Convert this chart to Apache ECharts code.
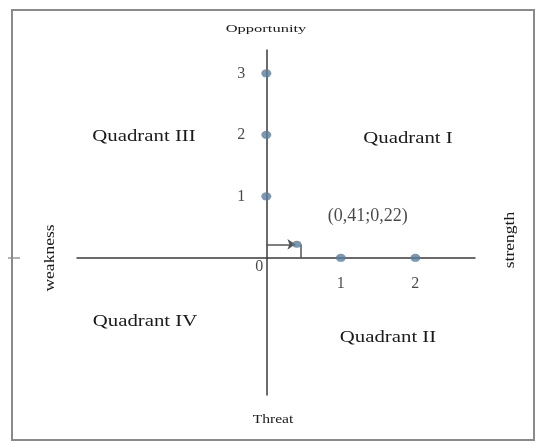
<!DOCTYPE html>
<html>
<head>
<meta charset="utf-8">
<script src="https://cdn.jsdelivr.net/npm/echarts@6/dist/echarts.min.js"></script>
<style>html,body{margin:0;padding:0;background:#fff}#c{width:540px;height:443px}</style>
</head>
<body>
<div id="c"></div>
<script>
// Data
const opportunityValues = [1, 2, 3];      // points on the vertical axis (x = 0)
const opportunityLabels = ['1', '2', '3'];
const strengthValues = [1, 2];            // points on the horizontal axis (y = 0)
const strengthLabels = ['1', '2'];
const originLabel = '0';
const resultPoint = [0.41, 0.22];
const resultLabel = '(0,41;0,22)';
const quadrantNames = ['Quadrant I', 'Quadrant II', 'Quadrant III', 'Quadrant IV'];
const axisNames = { top: 'Opportunity', bottom: 'Threat', left: 'weakness', right: 'strength' };

const FONT = '"Liberation Serif", "DejaVu Serif", serif';
const TXT = '#1a1a1a';
const MARK = '#5b7d9c';

const chart = echarts.init(document.getElementById('c'), null, { renderer: 'canvas' });

function txt(text, x, y, size, sx, rot) {
  return {
    type: 'text', x: x, y: y, scaleX: sx || 1, rotation: rot || 0, z: 10,
    style: { text: text, font: size + 'px ' + FONT, fill: TXT, align: 'center', verticalAlign: 'middle' }
  };
}

const option = {
  animation: false,
  grid: { left: 77, right: 65, top: 50, bottom: 48 },
  xAxis: {
    type: 'value', min: -2.54, max: 2.8,
    axisLine: { onZero: true, lineStyle: { color: '#3a3a3a', width: 1.5 } },
    axisTick: { show: false }, axisLabel: { show: false }, splitLine: { show: false }
  },
  yAxis: {
    type: 'value', min: -2.23, max: 3.38,
    axisLine: { onZero: true, lineStyle: { color: '#3a3a3a', width: 1.5 } },
    axisTick: { show: false }, axisLabel: { show: false }, splitLine: { show: false }
  },
  series: [
    {
      type: 'scatter', symbol: 'circle', symbolSize: [10, 8], z: 5,
      itemStyle: { color: MARK },
      data: opportunityValues.map((v, i) => ({ value: [0, v], label: { formatter: opportunityLabels[i] } })),
      label: { show: true, position: 'left', distance: 16, color: TXT, fontFamily: FONT, fontSize: 16 }
    },
    {
      type: 'scatter', symbol: 'circle', symbolSize: [10, 8], z: 5,
      itemStyle: { color: MARK },
      data: strengthValues.map((v, i) => ({ value: [v, 0], label: { formatter: strengthLabels[i] } })),
      label: { show: true, position: 'bottom', distance: 14, color: TXT, fontFamily: FONT, fontSize: 16 }
    },
    {
      type: 'scatter', symbolSize: 0, z: 5,
      data: [{ value: [0, 0], label: { formatter: originLabel } }],
      label: { show: true, position: 'inside', offset: [-7, 9], color: TXT, fontFamily: FONT, fontSize: 16 }
    },
    {
      type: 'lines', coordinateSystem: 'cartesian2d', z: 4,
      symbol: ['none', 'arrow'], symbolSize: 8,
      lineStyle: { color: '#555', width: 1.5, opacity: 1 },
      data: [
        { coords: [[0, resultPoint[1]], [resultPoint[0] - 0.02, resultPoint[1]]] }
      ]
    },
    {
      type: 'lines', coordinateSystem: 'cartesian2d', z: 4,
      symbol: 'none',
      lineStyle: { color: '#555', width: 1.5, opacity: 1 },
      data: [
        { coords: [[resultPoint[0] + 0.05, resultPoint[1]], [resultPoint[0] + 0.05, 0]] }
      ]
    },
    {
      type: 'scatter', symbol: 'circle', symbolSize: [9, 7], z: 6,
      itemStyle: { color: MARK },
      data: [{ value: resultPoint, label: { formatter: resultLabel } }],
      label: { show: true, position: 'inside', offset: [71, -28], color: TXT, fontFamily: FONT, fontSize: 18 }
    }
  ],
  graphic: [
    { type: 'rect', shape: { x: 12, y: 10, width: 522, height: 430 }, style: { fill: 'none', stroke: '#8a8a8a', lineWidth: 2 }, z: 1 },
    { type: 'line', shape: { x1: 8, y1: 258, x2: 20, y2: 258 }, style: { stroke: '#666', lineWidth: 1 } },
    txt(axisNames.top, 266, 29, 11, 1.5),
    txt(axisNames.bottom, 273, 420, 12, 1.3),
    txt(axisNames.left, 50, 258, 14, 1.25, Math.PI / 2),
    txt(axisNames.right, 510, 240, 14, 1.25, Math.PI / 2),
    txt(quadrantNames[0], 408, 139, 16, 1.3),
    txt(quadrantNames[1], 388, 338, 16, 1.3),
    txt(quadrantNames[2], 144, 137, 16, 1.3),
    txt(quadrantNames[3], 145, 322, 16, 1.3)
  ]
};
chart.setOption(option);
</script>
</body>
</html>
